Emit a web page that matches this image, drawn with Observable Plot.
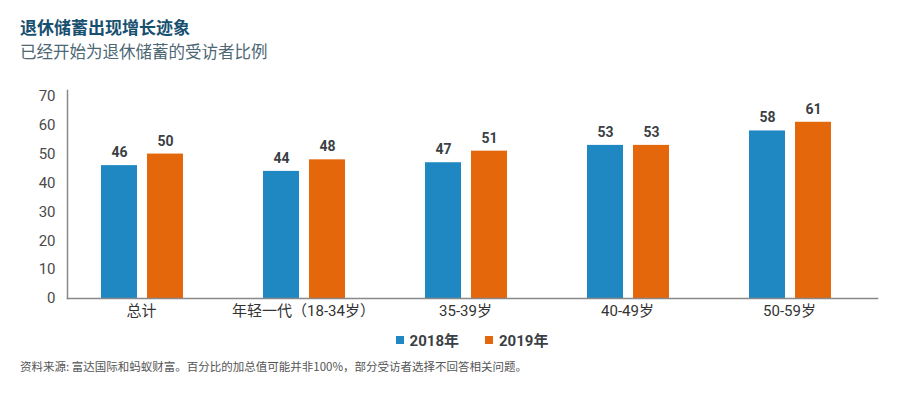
<!DOCTYPE html>
<html>
<head>
<meta charset="utf-8">
<script src="https://cdn.jsdelivr.net/npm/d3@7"></script>
<script src="https://cdn.jsdelivr.net/npm/@observablehq/plot@0.6"></script>
<style>
  html, body { margin: 0; padding: 0; background: #fff; }
  body { width: 900px; height: 395px; position: relative; overflow: hidden;
         font-family: Roboto, "Noto Sans CJK SC", sans-serif; }
  #title { position: absolute; left: 20px; top: 17px; font-size: 17px; line-height: 20px;
           font-weight: bold; color: #17506f; font-family: "Noto Sans CJK SC", sans-serif; }
  #subtitle { position: absolute; left: 20px; top: 41px; font-size: 16.5px; line-height: 20px;
              color: #4d6774; font-family: "Noto Sans CJK SC", sans-serif; }
  #unit { position: absolute; left: 37px; top: 61px; font-size: 14px; line-height: 18px; color: #555; }
  #chart { position: absolute; left: 0; top: 60px; }
  #legend { position: absolute; left: 0; top: 329px; width: 900px; box-sizing: border-box;
            padding-left: 44px; display: flex; justify-content: center; align-items: center;
            font-size: 15px; font-weight: bold; color: #3b3f45; }
  #legend .item { display: flex; align-items: center; margin: 0 13px; }
  #legend .sw { width: 8px; height: 8px; margin-right: 6px; }
  #caption { position: absolute; left: 20px; top: 358px; font-size: 11.5px; line-height: 16px; color: #555;
             font-family: "Noto Sans CJK SC", sans-serif; }
</style>
</head>
<body>
<div id="title">退休储蓄出现增长迹象</div>
<div id="subtitle">已经开始为退休储蓄的受访者比例</div>
<div id="unit">%</div>
<div id="chart"></div>
<div id="legend"></div>
<div id="caption">资料来源: 富达国际和蚂蚁财富。百分比的加总值可能并非100%，部分受访者选择不回答相关问题。</div>
<script>
const categories = ["总计", "年轻一代（18-34岁）", "35-39岁", "40-49岁", "50-59岁"];
const years = ["2018年", "2019年"];
const values2018 = [46, 44, 47, 53, 58];
const values2019 = [50, 48, 51, 53, 61];
const yTicks = [0, 10, 20, 30, 40, 50, 60, 70];
const colors = ["#1f88c2", "#e4670c"];

const table = [];
categories.forEach((c, i) => {
  table.push({cat: c, year: years[0], value: values2018[i]});
  table.push({cat: c, year: years[1], value: values2019[i]});
});

const plot = Plot.plot({
  width: 900,
  height: 268,
  marginTop: 30,
  marginBottom: 30,
  marginLeft: 65,
  marginRight: 21,
  style: {fontFamily: "Roboto, 'Noto Sans CJK SC', sans-serif", background: "#fff"},
  fx: {domain: categories, padding: 0, axis: null, label: null},
  x: {domain: years, range: [98, 181], paddingInner: 0.22, paddingOuter: 0, axis: null, label: null},
  y: {domain: [0, 72], axis: null, label: null},
  color: {domain: years, range: colors},
  marks: [
    Plot.barY(table, {fx: "cat", x: "year", y: "value", fill: "year"}),
    Plot.text(table, {fx: "cat", x: "year", y: "value", text: d => String(d.value), dy: -13,
      fontSize: 14, fontWeight: "bold", fill: "#3b3f45"}),
    Plot.axisY({ticks: yTicks, tickSize: 0, tickPadding: 12, fontSize: 15, fill: "#4a4a4a", label: null}),
    Plot.axisFx({anchor: "bottom", tickSize: 0, tickPadding: 7, fontSize: 15, fill: "#333", label: null, dx: -7}),
    Plot.frame({anchor: "left", facet: "super", stroke: "#888", strokeWidth: 1.5}),
    Plot.frame({anchor: "bottom", facet: "super", stroke: "#888", strokeWidth: 1.5})
  ]
});
document.getElementById("chart").appendChild(plot);

const legend = document.getElementById("legend");
years.forEach((y, i) => {
  const item = document.createElement("div");
  item.className = "item";
  const sw = document.createElement("div");
  sw.className = "sw";
  sw.style.background = colors[i];
  const lab = document.createElement("span");
  lab.textContent = y;
  item.appendChild(sw);
  item.appendChild(lab);
  legend.appendChild(item);
});
</script>
</body>
</html>
